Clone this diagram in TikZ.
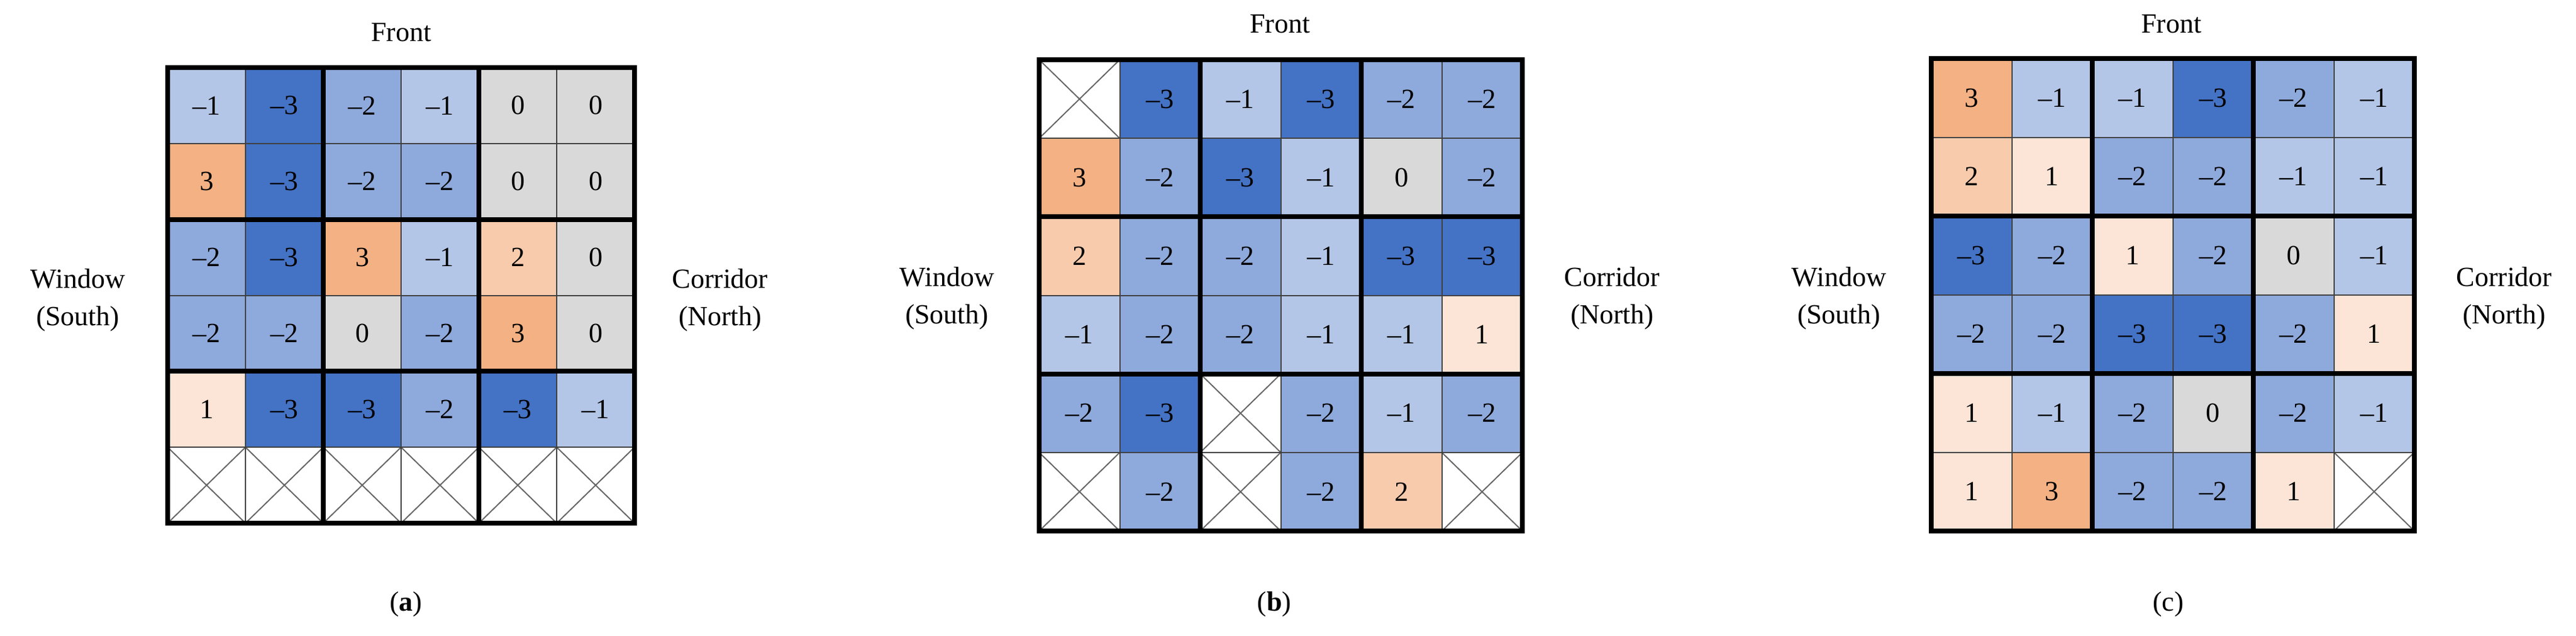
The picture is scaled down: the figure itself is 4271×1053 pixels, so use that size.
\documentclass[tikz,border=0pt]{standalone}
\usepackage{fontspec}
\setmainfont{Liberation Serif}
\begin{document}
\definecolor{c-3}{HTML}{4472C4}
\definecolor{c-2}{HTML}{8EA9DB}
\definecolor{c-1}{HTML}{B4C6E7}
\definecolor{c0}{HTML}{D9D9D9}
\definecolor{c1}{HTML}{FCE4D6}
\definecolor{c2}{HTML}{F8CBAD}
\definecolor{c3}{HTML}{F4B183}
\definecolor{c9}{HTML}{FFFFFF}
\newcommand{\mypanel}[6]{% name, x0,y0,x1,y1,data
  \pgfmathsetmacro{\cw}{(#4-#2)/6}
  \pgfmathsetmacro{\ch}{(#5-#3)/6}
  \foreach \row [count=\r from 0] in {#6}{
    \foreach \v [count=\c from 0] in \row {
      \pgfmathsetmacro{\xa}{#2+\c*\cw}
      \pgfmathsetmacro{\ya}{#3+\r*\ch}
      \fill[c\v] (\xa,\ya) rectangle ++(\cw,\ch);
      \ifnum\v=9
        \draw[cross] (\xa,\ya) -- ++(\cw,\ch) (\xa+\cw,\ya) -- ++(-\cw,\ch);
        \node[cell] (#1-\r-\c) at (\xa+\cw/2,\ya+\ch/2) {};
      \else
        \node[cell] (#1-\r-\c) at (\xa+\cw/2,\ya+\ch/2)
          {\ifnum\v<0 \textendash\the\numexpr-\v\relax\else\v\fi};
      \fi
    }
  }
  \foreach \i in {1,3,5}{
    \draw[thin grid] (#2+\i*\cw,#3) -- (#2+\i*\cw,#5);
    \draw[thin grid] (#2,#3+\i*\ch) -- (#4,#3+\i*\ch);
  }
  \foreach \i in {2,4}{
    \draw[thick grid] (#2+\i*\cw,#3) -- (#2+\i*\cw,#5);
    \draw[thick grid] (#2,#3+\i*\ch) -- (#4,#3+\i*\ch);
  }
  \draw[thick grid] (#2,#3) rectangle (#4,#5);
}
\begin{tikzpicture}[x=1pt,y=-1pt,
  cell/.style={inner sep=0pt,font=\fontsize{46}{52}\selectfont},
  lbl/.style={inner sep=0pt,align=center,font=\fontsize{46}{62}\selectfont},
  cross/.style={line width=2pt,black!60},
  thin grid/.style={line width=2pt,black!75},
  thick grid/.style={line width=8pt,black,line cap=rect}]
\useasboundingbox (0,0) rectangle (4271,1053);
\mypanel{a}{278}{112}{1052}{867}{{-1,-3,-2,-1,0,0},{3,-3,-2,-2,0,0},{-2,-3,3,-1,2,0},{-2,-2,0,-2,3,0},{1,-3,-3,-2,-3,-1},{9,9,9,9,9,9}}
\mypanel{b}{1723}{99}{2524}{880}{{9,-3,-1,-3,-2,-2},{3,-2,-3,-1,0,-2},{2,-2,-2,-1,-3,-3},{-1,-2,-2,-1,-1,1},{-2,-3,9,-2,-1,-2},{9,-2,9,-2,2,9}}
\mypanel{c}{3202}{97}{4003}{880}{{3,-1,-1,-3,-2,-1},{2,1,-2,-2,-1,-1},{-3,-2,1,-2,0,-1},{-2,-2,-3,-3,-2,1},{1,-1,-2,0,-2,-1},{1,3,-2,-2,1,9}}
\node[lbl] (fa) at (665,54) {Front};
\node[lbl] (wa) at (129,497) {Window\\(South)};
\node[lbl] (na) at (1194,497) {Corridor\\(North)};
\node[lbl] (la) at (673,1001) {(\textbf{a})};
\node[lbl] (fb) at (2122,40) {Front};
\node[lbl] (wb) at (1570,494) {Window\\(South)};
\node[lbl] (nb) at (2673,494) {Corridor\\(North)};
\node[lbl] (lb) at (2113,1001) {(\textbf{b})};
\node[lbl] (fc) at (3600,40) {Front};
\node[lbl] (wc) at (3049,494) {Window\\(South)};
\node[lbl] (nc) at (4152,494) {Corridor\\(North)};
\node[lbl] (lc) at (3595,1001) {(c)};
\end{tikzpicture}
\end{document}
